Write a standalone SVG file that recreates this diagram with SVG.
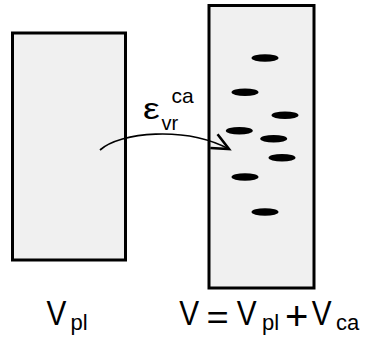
<svg xmlns="http://www.w3.org/2000/svg" width="375" height="342" viewBox="0 0 375 342">
<style>
.box{fill:#f0f0f0;stroke:#000;stroke-width:3}
.dot{fill:#000}
.t{font-family:"Liberation Sans",Arial,sans-serif;fill:#000}
.conn{fill:none;stroke:#000;stroke-width:1.7}
</style>
<defs>
<marker id="ah" markerUnits="userSpaceOnUse" markerWidth="30" markerHeight="30" viewBox="-22 -15 30 30" refX="0" refY="0" orient="auto" overflow="visible">
<path d="M-17,-7.8 L0,0 L-17,7.8" fill="none" stroke="#000" stroke-width="2.6"/>
</marker>
</defs>
<g id="node-vpl">
<rect class="box" x="12.5" y="33" width="113" height="227"/>
</g>
<g id="node-v">
<rect class="box" x="209" y="5.5" width="105" height="282.5"/>
<ellipse class="dot" cx="265" cy="58" rx="13.5" ry="3.8"/>
<ellipse class="dot" cx="245" cy="92.3" rx="13.5" ry="3.8"/>
<ellipse class="dot" cx="285" cy="115.3" rx="13.5" ry="3.8"/>
<ellipse class="dot" cx="239.3" cy="130.7" rx="13.5" ry="3.8"/>
<ellipse class="dot" cx="273.7" cy="138.7" rx="13.5" ry="3.8"/>
<ellipse class="dot" cx="282" cy="157.7" rx="13.5" ry="3.8"/>
<ellipse class="dot" cx="245" cy="177" rx="13.5" ry="3.8"/>
<ellipse class="dot" cx="265" cy="212" rx="13.5" ry="3.8"/>
</g>
<g id="connectors">
<path class="conn" d="M100,150 C120,132 185,126 229,149" marker-end="url(#ah)"/>
</g>
<g id="label-eps">
<text class="t" font-size="29" transform="translate(143,118.5) scale(1.3,1)">ε</text>
<text class="t" x="161.5" y="130" font-size="20">vr</text>
<text class="t" x="171.5" y="103" font-size="21">ca</text>
</g>
<g id="label-vpl">
<text class="t" font-size="35" transform="translate(46.5,325) scale(0.85,1)">V</text>
<text class="t" x="70.5" y="330" font-size="22">pl</text>
</g>
<g id="label-v">
<text class="t" font-size="35" transform="translate(179.3,325) scale(0.85,1)">V</text>
<text class="t" font-size="34" transform="translate(206.5,329) scale(1.12,1)">=</text>
<text class="t" font-size="35" transform="translate(236.7,325) scale(0.85,1)">V</text>
<text class="t" x="262" y="330" font-size="22">pl</text>
<text class="t" x="285" y="330" font-size="40">+</text>
<text class="t" font-size="35" transform="translate(311.7,325) scale(0.85,1)">V</text>
<text class="t" x="336" y="330" font-size="22">ca</text>
</g>
</svg>
